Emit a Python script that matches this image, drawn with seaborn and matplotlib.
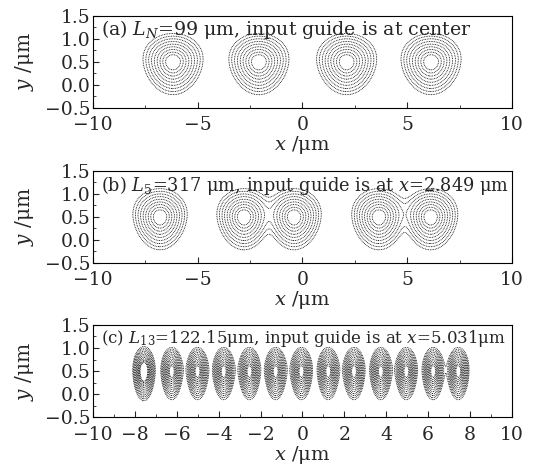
import numpy as np
import matplotlib
matplotlib.use('Agg')
import matplotlib.pyplot as plt
import seaborn as sns

# Spot centres (x, um) and relative peak intensities
centers_a = [-6.18, -2.08, 2.11, 6.14]
amps_a = [1.0, 1.0, 1.0, 1.0]
centers_b = [-6.80, -2.79, -0.40, 3.65, 6.12]
amps_b = [1.0, 1.0, 1.0, 1.0, 1.0]
centers_c = [-7.57, -6.24, -5.01, -3.76, -2.53, -1.28, -0.05,
             1.23, 2.46, 3.74, 4.96, 6.24, 7.44]
amps_c = [1.15, 1.0, 1.0, 1.0, 1.0, 1.0, 1.0, 1.0, 1.0, 1.0, 1.0, 1.0, 1.0]
y_center = 0.5

titles = [r'(a) $L_N$=99 μm, input guide is at center',
          r'(b) $L_5$=317 μm, input guide is at $x$=2.849 μm',
          r'(c) $L_{13}$=122.15μm, input guide is at $x$=5.031μm']
title_sizes = [13.6, 12.8, 12.0]

sns.set_theme(style='ticks')
plt.rcParams['font.family'] = ['DejaVu Serif']
plt.rcParams['mathtext.fontset'] = 'dejavuserif'
plt.rcParams['xtick.direction'] = 'in'
plt.rcParams['ytick.direction'] = 'in'

xg = np.linspace(-10, 10, 900)
yg = np.linspace(-0.5, 1.5, 300)
X, Y = np.meshgrid(xg, yg)


def field(centers, amps, sx, sy_up, sy_dn, taper):
    dy = Y - y_center
    sy = np.where(dy > 0, sy_up, sy_dn)
    wx = sx * (1 + taper * dy)
    f = np.zeros_like(X)
    for c, a in zip(centers, amps):
        f += a * np.exp(-((X - c) / wx) ** 2 - (dy / sy) ** 2)
    return f


fig = plt.figure(figsize=(5.44, 4.73), dpi=100)
boxes = [[0.171, 0.772, 0.770, 0.195],
         [0.171, 0.444, 0.770, 0.195],
         [0.171, 0.118, 0.770, 0.195]]

fields = [
    (field(centers_a, amps_a, 0.84, 0.36, 0.42, 0.15), np.exp(-np.linspace(1.7, 0.42, 9) ** 2)),
    (field(centers_b, amps_b, 0.76, 0.36, 0.42, 0.15), np.exp(-np.linspace(1.7, 0.42, 9) ** 2)),
    (field(centers_c, amps_c, 0.38, 0.38, 0.46, 0.08), np.exp(-np.linspace(1.35, 0.3, 12) ** 2)),
]

for i, (box, (F, lev)) in enumerate(zip(boxes, fields)):
    ax = fig.add_axes(box)
    ax.contour(X, Y, F, levels=lev, colors='black', linewidths=0.6,
               linestyles=[(0, (1, 1))])
    ax.set_xlim(-10, 10)
    ax.set_ylim(-0.5, 1.5)
    ax.set_yticks([-0.5, 0.0, 0.5, 1.0, 1.5])
    ax.set_yticks(np.arange(-0.5, 1.51, 0.25), minor=True)
    if i < 2:
        ax.set_xticks([-10, -5, 0, 5, 10])
        ax.set_xticks(np.arange(-10, 10.1, 2.5), minor=True)
    else:
        ax.set_xticks(np.arange(-10, 10.1, 2))
        ax.set_xticks(np.arange(-10, 10.1, 1), minor=True)
    ax.set_yticklabels(['−0.5', '0.0', '0.5', '1.0', '1.5'])
    ax.tick_params(labelsize=13.5, length=4, width=0.8)
    ax.tick_params(axis='x', pad=6)
    ax.tick_params(axis='y', pad=2)
    ax.tick_params(which='minor', length=2.5, width=0.6)
    for s in ax.spines.values():
        s.set_linewidth(0.8)
        s.set_color('black')
    ax.set_xlabel(r'$x$ /μm', fontsize=14, labelpad=0)
    ax.set_ylabel(r'$y$ /μm', fontsize=14.5, labelpad=6)
    ax.text(0.02, 0.97, titles[i], transform=ax.transAxes, ha='left', va='top',
            fontsize=title_sizes[i])

fig.savefig('out.png', dpi=100)
